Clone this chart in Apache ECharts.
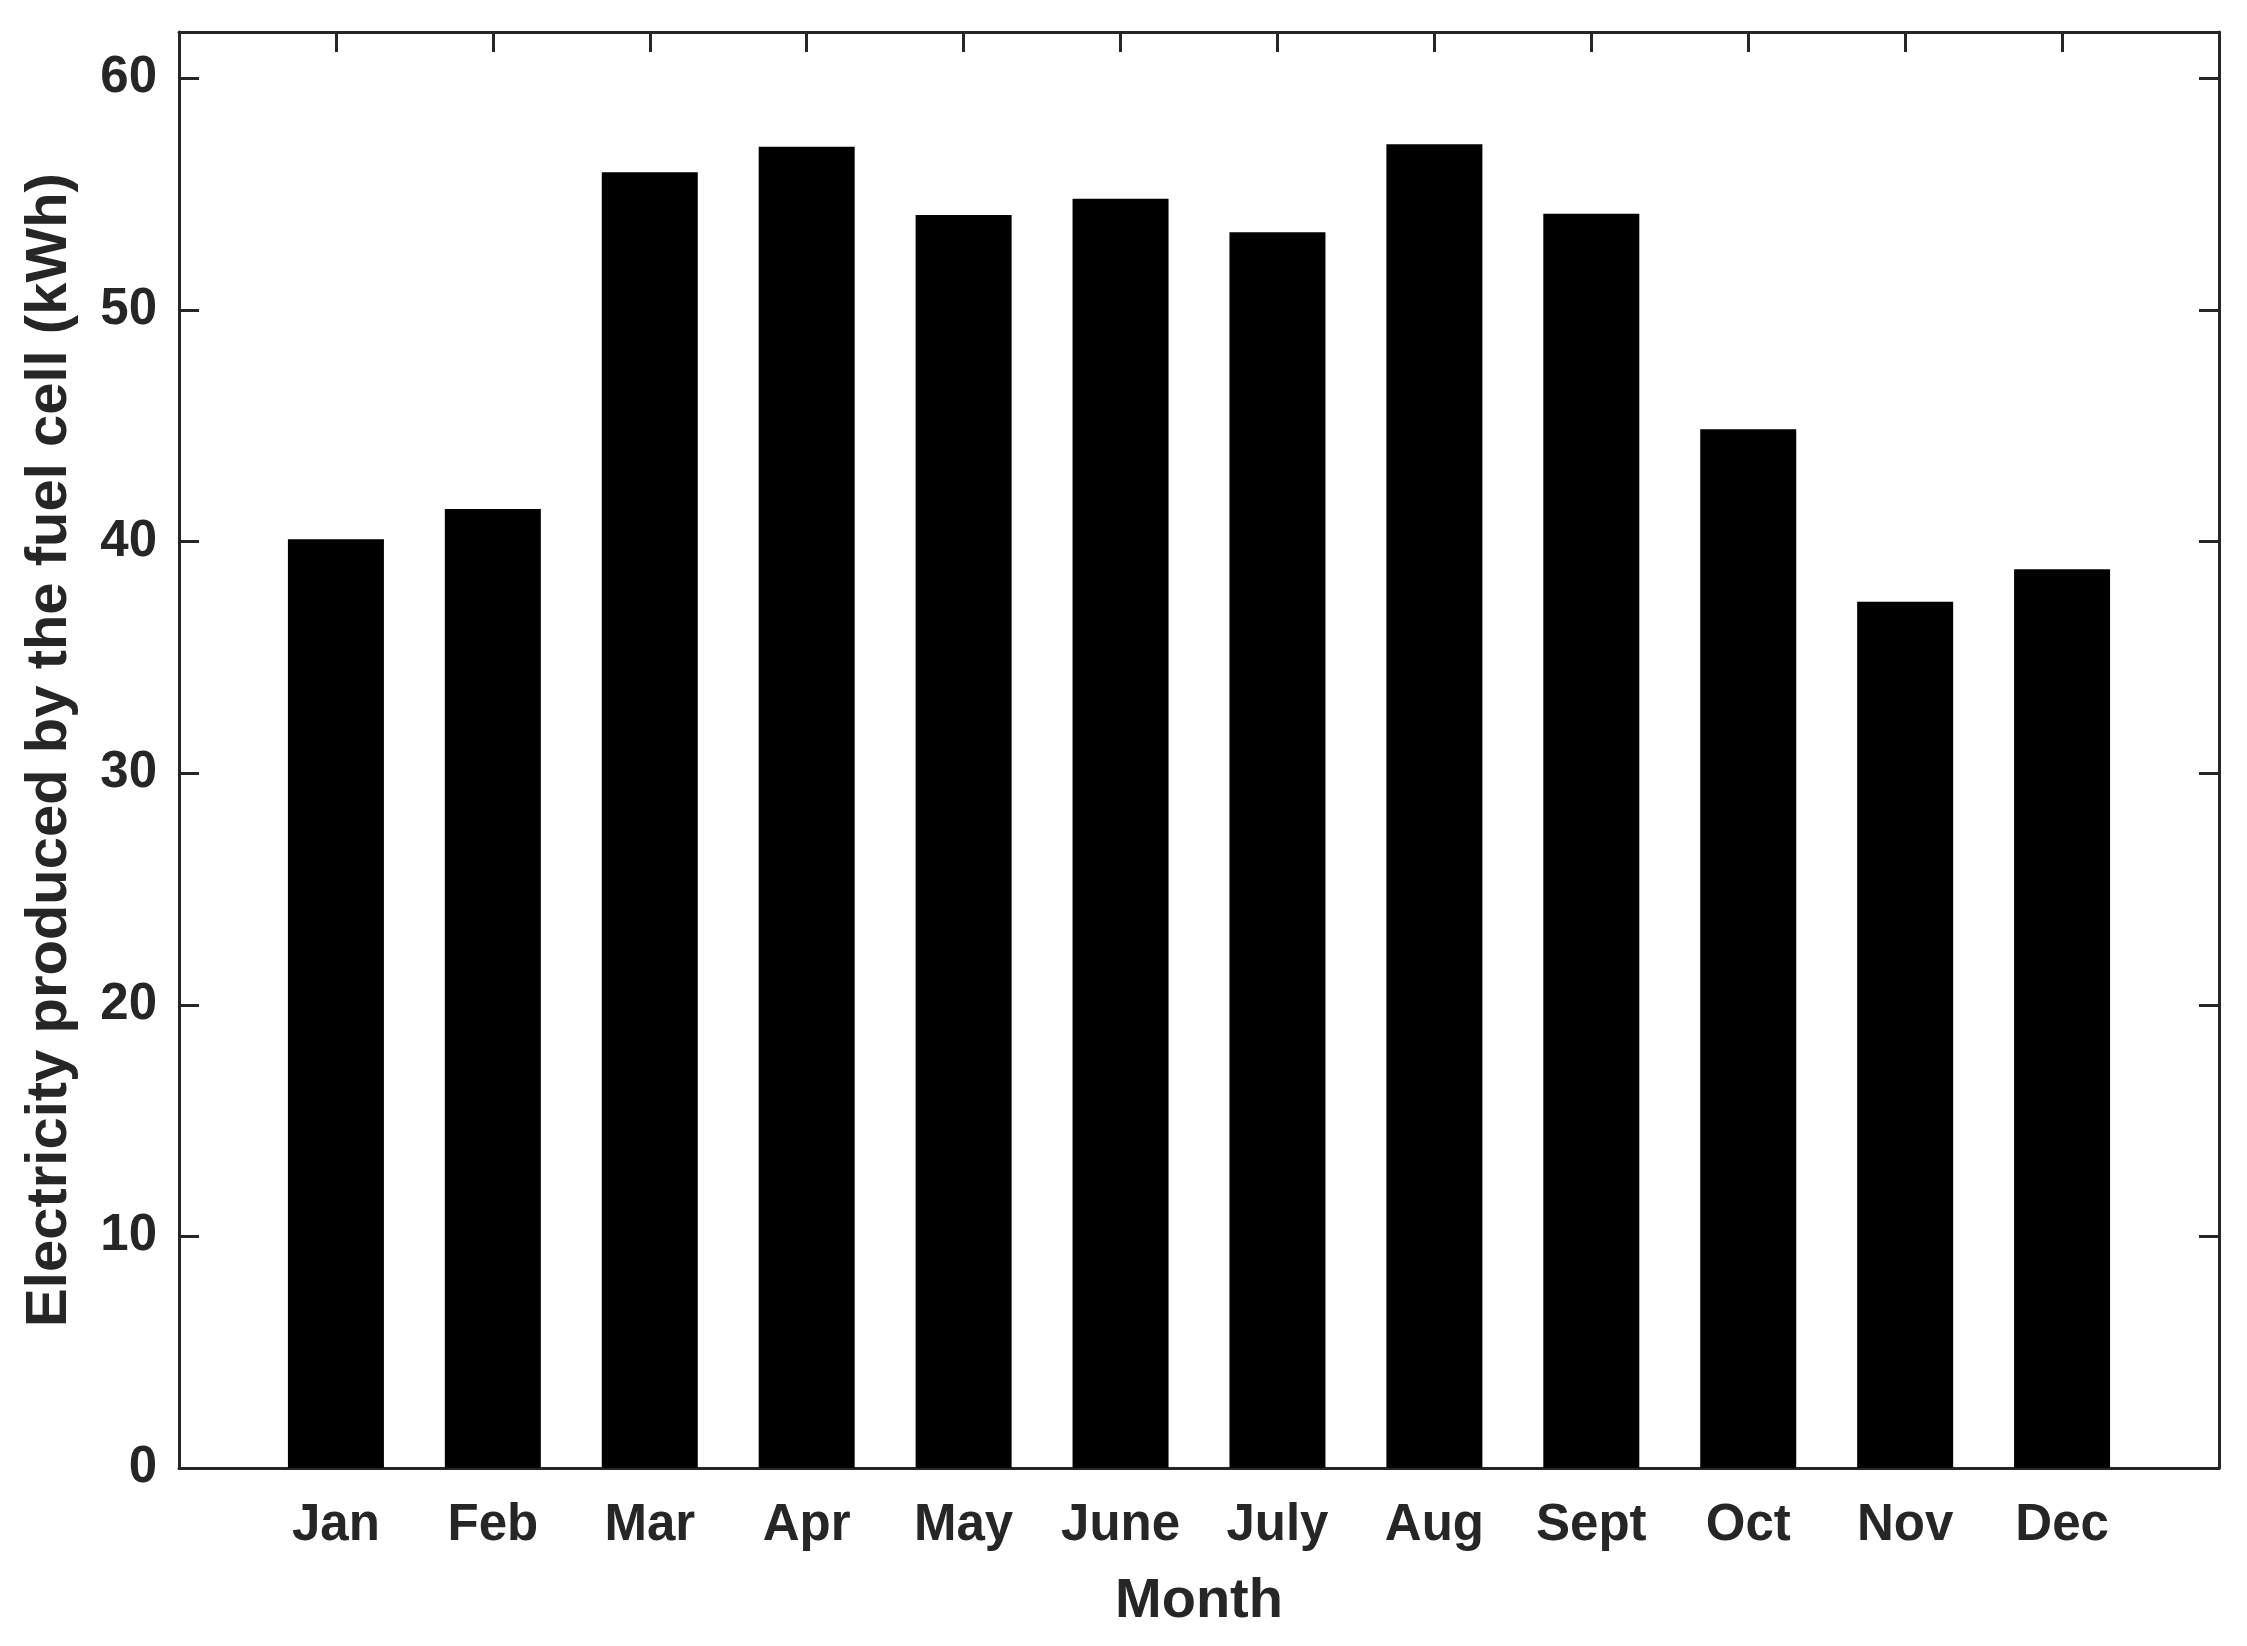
<!DOCTYPE html>
<html>
<head>
<meta charset="utf-8">
<script src="https://cdn.jsdelivr.net/npm/echarts@6/dist/echarts.min.js"></script>
<style>
  html, body { margin: 0; padding: 0; background: #fff; }
  #chart { width: 2247px; height: 1646px; }
</style>
</head>
<body>
<div id="chart"></div>
<script>
const months = ['Jan', 'Feb', 'Mar', 'Apr', 'May', 'June', 'July', 'Aug', 'Sept', 'Oct', 'Nov', 'Dec']
const electricity = [40.1, 41.4, 55.95, 57.05, 54.1, 54.8, 53.35, 57.15, 54.15, 44.85, 37.4, 38.8]
const yTicks = [0, 10, 20, 30, 40, 50, 60]

const ink = '#262626'
const font = '"Liberation Sans", Arial, Helvetica, sans-serif'

const axisLine = { show: true, onZero: false, lineStyle: { color: ink, width: 3 } }
const axisTick = { show: true, inside: true, length: 20, lineStyle: { color: ink, width: 3 } }

const chart = echarts.init(document.getElementById('chart'))

chart.setOption({
  animation: false,
  backgroundColor: '#fff',
  grid: { left: 179, right: 28, top: 32, bottom: 178 },
  xAxis: [{
    type: 'value',
    min: 0,
    max: months.length + 1,
    interval: 1,
    position: 'bottom',
    axisLine: axisLine,
    axisTick: axisTick,
    splitLine: { show: false },
    axisLabel: {
      margin: 32,
      color: ink,
      fontFamily: font,
      fontWeight: 'bold',
      fontSize: 51,
      formatter: v => months[v - 1] || ''
    },
    name: 'Month',
    nameLocation: 'middle',
    nameGap: 106,
    nameTextStyle: { color: ink, fontFamily: font, fontWeight: 'bold', fontSize: 56 }
  }, {
    type: 'value',
    min: 0,
    max: months.length + 1,
    interval: 1,
    position: 'top',
    axisLine: axisLine,
    axisTick: axisTick,
    axisLabel: { show: false },
    splitLine: { show: false }
  }],
  yAxis: [{
    type: 'value',
    min: 0,
    max: 62,
    interval: 10,
    position: 'left',
    axisLine: axisLine,
    axisTick: axisTick,
    splitLine: { show: false },
    axisLabel: {
      margin: 22,
      color: ink,
      fontFamily: font,
      fontWeight: 'bold',
      fontSize: 51,
      formatter: v => yTicks.includes(v) ? String(v) : ''
    },
    name: 'Electricity produced by the fuel cell (kWh)',
    nameLocation: 'middle',
    nameRotate: 90,
    nameGap: 100,
    nameTextStyle: { color: ink, fontFamily: font, fontWeight: 'bold', fontSize: 58 }
  }, {
    type: 'value',
    min: 0,
    max: 62,
    interval: 10,
    position: 'right',
    axisLine: axisLine,
    axisTick: axisTick,
    axisLabel: { show: false },
    splitLine: { show: false }
  }],
  series: [{
    type: 'bar',
    xAxisIndex: 0,
    yAxisIndex: 0,
    barWidth: 96,
    itemStyle: { color: '#000' },
    data: electricity.map((v, i) => [i + 1, v])
  }]
})
</script>
</body>
</html>
